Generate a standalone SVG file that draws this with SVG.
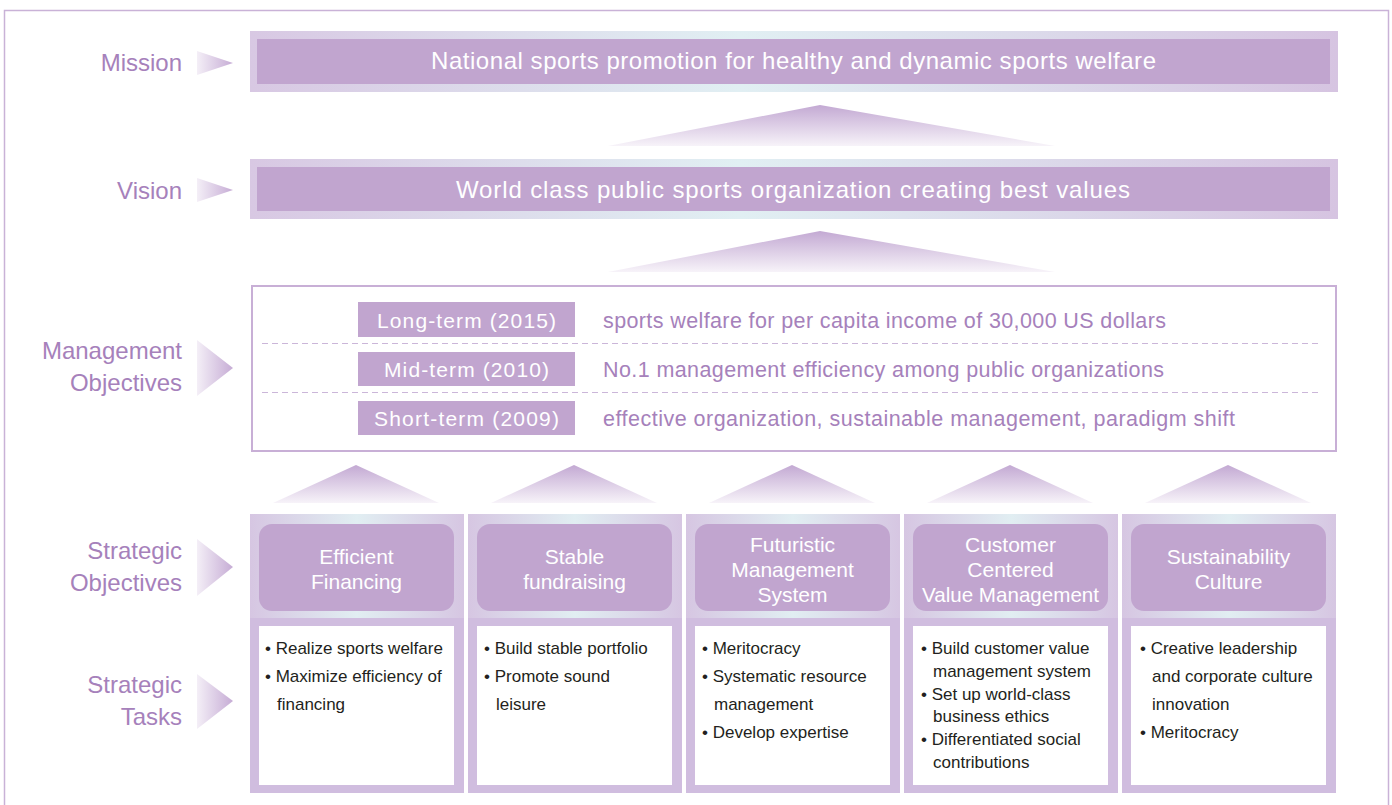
<svg xmlns="http://www.w3.org/2000/svg" width="1392" height="805" viewBox="0 0 1392 805">
<defs>
<linearGradient id="band" x1="0" y1="0" x2="1" y2="0">
<stop offset="0" stop-color="#d8c8e3"/>
<stop offset="0.45" stop-color="#e1eff3"/>
<stop offset="1" stop-color="#d6c4e1"/>
</linearGradient>
<linearGradient id="colTop" x1="0" y1="0" x2="1" y2="0">
<stop offset="0" stop-color="#d6c6e2"/>
<stop offset="0.5" stop-color="#e1eef2"/>
<stop offset="1" stop-color="#d6c6e2"/>
</linearGradient>
<linearGradient id="up" x1="0" y1="0" x2="0" y2="1">
<stop offset="0" stop-color="#c3a9d3"/>
<stop offset="1" stop-color="#f7f3f9"/>
</linearGradient>
<linearGradient id="right" x1="0" y1="0" x2="1" y2="0">
<stop offset="0" stop-color="#f4eff7"/>
<stop offset="1" stop-color="#c6acd5"/>
</linearGradient>
<style>
.lbl{font-family:"Liberation Sans",Arial,sans-serif;font-size:24px;fill:#a681bb;text-anchor:end}
.title{font-family:"Liberation Sans",Arial,sans-serif;font-size:24px;fill:#ffffff;text-anchor:middle}
.term{font-family:"Liberation Sans",Arial,sans-serif;font-size:21px;fill:#ffffff;text-anchor:middle}
.obj{font-family:"Liberation Sans",Arial,sans-serif;font-size:21.5px;fill:#a681bb}
.hd{font-family:"Liberation Sans",Arial,sans-serif;font-size:21px;fill:#ffffff;text-anchor:middle}
.task{font-family:"Liberation Sans",Arial,sans-serif;font-size:17px;fill:#231f20}
.inner{fill:#c1a5cf}
.termbox{fill:#c1a5cf}
.dash{stroke:#cbb6d9;stroke-width:1.2;stroke-dasharray:6 4}
.colbg{fill:#d0bddf}
.white{fill:#ffffff}
</style>
</defs>
<rect x="0" y="0" width="1392" height="805" fill="#ffffff"/>
<path d="M4.5 805 V10.5 H1388.5 V805" fill="none" stroke="#c9b2d7" stroke-width="1.5"/>

<g id="labels">
<text class="lbl" x="182" y="70.6">Mission</text>
<polygon points="197,51 233,63 197,75" fill="url(#right)"/>
<text class="lbl" x="182" y="198.6">Vision</text>
<polygon points="197,178 233,190 197,202" fill="url(#right)"/>
<text class="lbl" x="182" y="358.6">Management</text>
<text class="lbl" x="182" y="390.6">Objectives</text>
<polygon points="197,340 233,368 197,396" fill="url(#right)"/>
<text class="lbl" x="182" y="558.6">Strategic</text>
<text class="lbl" x="182" y="590.6">Objectives</text>
<polygon points="197,539 233,567 197,596" fill="url(#right)"/>
<text class="lbl" x="182" y="692.6">Strategic</text>
<text class="lbl" x="182" y="724.6">Tasks</text>
<polygon points="197,674 233,701 197,729" fill="url(#right)"/>
</g>

<g id="mission">
<rect x="250" y="31" width="1088" height="61" fill="url(#band)"/>
<rect class="inner" x="257" y="39" width="1073" height="45"/>
<text class="title" x="793.5" y="68.5" textLength="725" lengthAdjust="spacing">National sports promotion for healthy and dynamic sports welfare</text>
</g>

<g id="connectors">
<polygon points="820,105 1055,146 608,146" fill="url(#up)"/>
<polygon points="820,231 1055,272 608,272" fill="url(#up)"/>
<polygon points="356,465 439,503 273,503" fill="url(#up)"/>
<polygon points="574,465 657,503 491,503" fill="url(#up)"/>
<polygon points="792,465 875,503 709,503" fill="url(#up)"/>
<polygon points="1010,465 1093,503 927,503" fill="url(#up)"/>
<polygon points="1228,465 1311,503 1145,503" fill="url(#up)"/>
</g>

<g id="vision">
<rect x="250" y="159" width="1088" height="60" fill="url(#band)"/>
<rect class="inner" x="257" y="167" width="1073" height="44"/>
<text class="title" x="793" y="197.5" textLength="674" lengthAdjust="spacing">World class public sports organization creating best values</text>
</g>

<g id="management-objectives">
<rect x="252" y="286" width="1084" height="165" fill="#ffffff" stroke="#c8afd6" stroke-width="2"/>
<line class="dash" x1="262" y1="343.5" x2="1322" y2="343.5"/>
<line class="dash" x1="262" y1="392.5" x2="1322" y2="392.5"/>
<rect class="termbox" x="358" y="302" width="217" height="35"/>
<text class="term" x="466.5" y="327.5" textLength="179" lengthAdjust="spacing">Long-term (2015)</text>
<text class="obj" x="603" y="327.5" textLength="563" lengthAdjust="spacing">sports welfare for per capita income of 30,000 US dollars</text>
<rect class="termbox" x="358" y="352" width="217" height="34"/>
<text class="term" x="466.5" y="376.5" textLength="165" lengthAdjust="spacing">Mid-term (2010)</text>
<text class="obj" x="603" y="376.5" textLength="561" lengthAdjust="spacing">No.1 management efficiency among public organizations</text>
<rect class="termbox" x="358" y="401" width="217" height="34"/>
<text class="term" x="466.5" y="425.5" textLength="185" lengthAdjust="spacing">Short-term (2009)</text>
<text class="obj" x="603" y="425.5" textLength="632" lengthAdjust="spacing">effective organization, sustainable management, paradigm shift</text>
</g>

<g id="col-efficient-financing">
<rect class="colbg" x="250" y="514" width="214" height="279"/>
<rect x="250" y="514" width="214" height="104" fill="url(#colTop)"/>
<rect class="inner" x="259" y="524" width="195" height="87" rx="13"/>
<text class="hd" x="356.5" y="563.5">Efficient</text>
<text class="hd" x="356.5" y="588.5">Financing</text>
<rect class="white" x="259" y="626" width="195" height="159"/>
<text class="task" x="265" y="654">• Realize sports welfare</text>
<text class="task" x="265" y="682">• Maximize efficiency of</text>
<text class="task" x="277" y="710">financing</text>
</g>

<g id="col-stable-fundraising">
<rect class="colbg" x="468" y="514" width="214" height="279"/>
<rect x="468" y="514" width="214" height="104" fill="url(#colTop)"/>
<rect class="inner" x="477" y="524" width="195" height="87" rx="13"/>
<text class="hd" x="574.5" y="563.5">Stable</text>
<text class="hd" x="574.5" y="588.5">fundraising</text>
<rect class="white" x="477" y="626" width="195" height="159"/>
<text class="task" x="484" y="654">• Build stable portfolio</text>
<text class="task" x="484" y="682">• Promote sound</text>
<text class="task" x="496" y="710">leisure</text>
</g>

<g id="col-futuristic-management">
<rect class="colbg" x="686" y="514" width="214" height="279"/>
<rect x="686" y="514" width="214" height="104" fill="url(#colTop)"/>
<rect class="inner" x="695" y="524" width="195" height="87" rx="13"/>
<text class="hd" x="792.5" y="551.5">Futuristic</text>
<text class="hd" x="792.5" y="576.5">Management</text>
<text class="hd" x="792.5" y="601.5">System</text>
<rect class="white" x="695" y="626" width="195" height="159"/>
<text class="task" x="702" y="654">• Meritocracy</text>
<text class="task" x="702" y="682">• Systematic resource</text>
<text class="task" x="714" y="710">management</text>
<text class="task" x="702" y="738">• Develop expertise</text>
</g>

<g id="col-customer-centered">
<rect class="colbg" x="904" y="514" width="214" height="279"/>
<rect x="904" y="514" width="214" height="104" fill="url(#colTop)"/>
<rect class="inner" x="913" y="524" width="195" height="87" rx="13"/>
<text class="hd" x="1010.5" y="551.5">Customer</text>
<text class="hd" x="1010.5" y="576.5">Centered</text>
<text class="hd" x="1010.5" y="601.5" textLength="177" lengthAdjust="spacingAndGlyphs">Value Management</text>
<rect class="white" x="913" y="626" width="195" height="159"/>
<text class="task" x="921" y="654">• Build customer value</text>
<text class="task" x="933" y="677">management system</text>
<text class="task" x="921" y="700">• Set up world-class</text>
<text class="task" x="933" y="722">business ethics</text>
<text class="task" x="921" y="745">• Differentiated social</text>
<text class="task" x="933" y="768">contributions</text>
</g>

<g id="col-sustainability-culture">
<rect class="colbg" x="1122" y="514" width="214" height="279"/>
<rect x="1122" y="514" width="214" height="104" fill="url(#colTop)"/>
<rect class="inner" x="1131" y="524" width="195" height="87" rx="13"/>
<text class="hd" x="1228.5" y="563.5">Sustainability</text>
<text class="hd" x="1228.5" y="588.5">Culture</text>
<rect class="white" x="1131" y="626" width="195" height="159"/>
<text class="task" x="1140" y="654">• Creative leadership</text>
<text class="task" x="1152" y="682">and corporate culture</text>
<text class="task" x="1152" y="710">innovation</text>
<text class="task" x="1140" y="738">• Meritocracy</text>
</g>
</svg>
